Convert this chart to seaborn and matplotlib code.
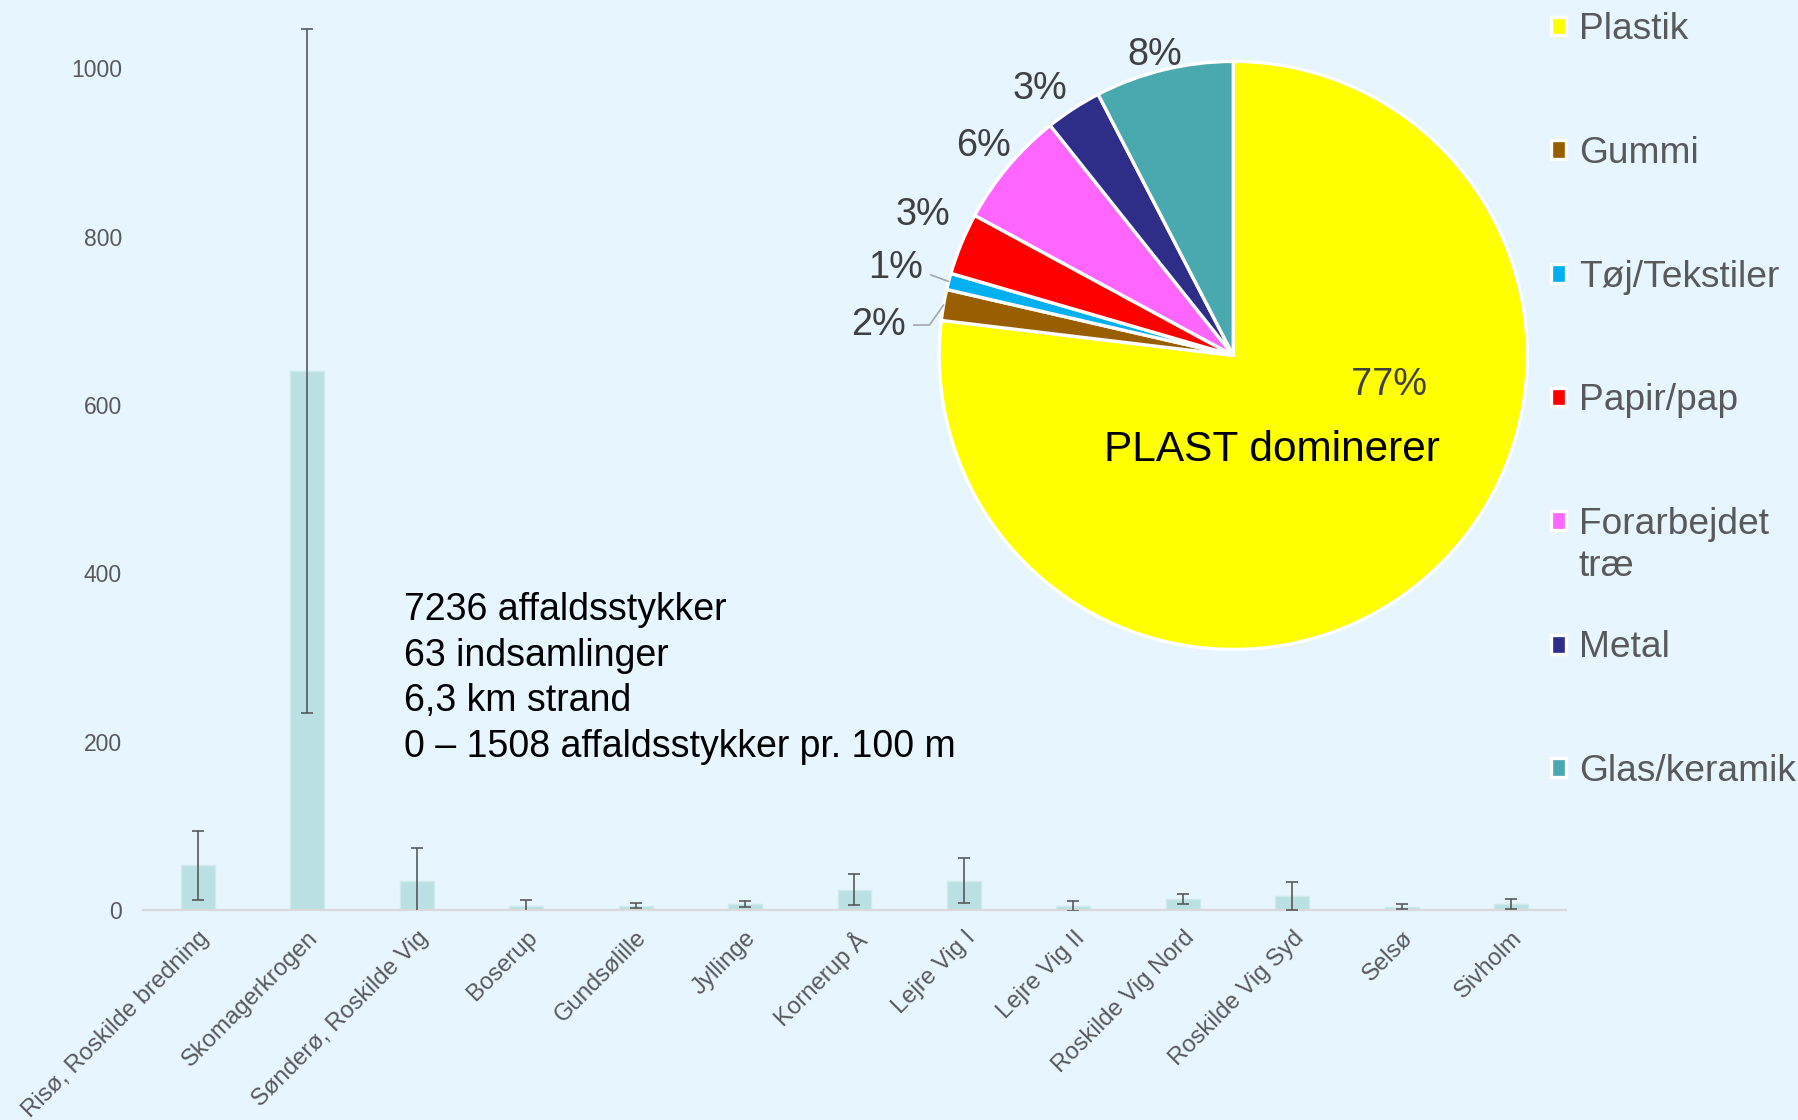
import numpy as np
import pandas as pd
import seaborn as sns
import matplotlib.pyplot as plt

# data
sites = ['Risø, Roskilde bredning', 'Skomagerkrogen', 'Sønderø, Roskilde Vig', 'Boserup',
         'Gundsølille', 'Jyllinge', 'Kornerup Å', 'Lejre Vig I', 'Lejre Vig II',
         'Roskilde Vig Nord', 'Roskilde Vig Syd', 'Selsø', 'Sivholm']
mean_counts = [53, 640, 35, 4.3, 5, 7, 24, 35, 5, 13.5, 17, 4, 7]
err_counts = [41, 406, 39, 8, 3, 4, 18.5, 26.5, 6, 6, 16.5, 2.7, 6]
yticks = [0, 200, 400, 600, 800, 1000]

materials = ['Plastik', 'Gummi', 'Tøj/Tekstiler', 'Papir/pap', 'Forarbejdet træ', 'Metal', 'Glas/keramik']
shares = [76.9, 1.7, 0.9, 3.4, 6.4, 3.1, 7.6]
mat_colors = ['#FFFF00', '#985E00', '#00B0F0', '#FF0000', '#FF66FF', '#2E2D88', '#4AA8AF']

info_lines = ['7236 affaldsstykker', '63 indsamlinger', '6,3 km strand',
              '0 – 1508 affaldsstykker pr. 100 m']
pie_title = 'PLAST dominerer'

BG = '#E7F5FE'
GREY = '#595959'

sns.set_theme(style='white')
plt.rcParams['font.family'] = ['Liberation Sans', 'DejaVu Sans']

fig = plt.figure(figsize=(17.98, 11.2), dpi=100)
fig.patch.set_facecolor(BG)

# bar chart
ax = fig.add_axes([0.0795, 0.1875, 0.7915, 0.8125])
ax.set_facecolor(BG)
df = pd.DataFrame({'site': sites, 'mean': mean_counts, 'err': err_counts})
sns.barplot(data=df, x='site', y='mean', color='#BBE0E3', saturation=1, width=0.31,
            edgecolor='#CFEAEC', linewidth=1, ax=ax)
ax.errorbar(np.arange(len(sites)), df['mean'], yerr=df['err'], fmt='none',
            ecolor=GREY, elinewidth=1.2, capsize=4.5, capthick=1.2, zorder=3)
ax.set_xlim(-0.5, len(sites) - 0.5)
ax.set_ylim(0, 1081)
ax.set_yticks(yticks)
ax.set_xlabel('')
ax.set_ylabel('')
for s in ['left', 'right', 'top']:
    ax.spines[s].set_visible(False)
ax.spines['bottom'].set_color('#D9D9D9')
ax.spines['bottom'].set_linewidth(1.6)
ax.tick_params(axis='both', length=0, labelcolor=GREY)
ax.tick_params(axis='y', pad=15, labelsize=16.5)
ax.tick_params(axis='x', pad=12, labelsize=17.2)
plt.setp(ax.get_xticklabels(), rotation=45, ha='right', rotation_mode='anchor')

fig.text(0.2245, 0.394, '\n'.join(info_lines), ha='left', va='center',
         fontsize=27, color='black', linespacing=1.34)

# pie chart
axp = fig.add_axes([0.5142, 0.4070, 0.3434, 0.5513])
wedges, _ = axp.pie(shares, colors=mat_colors, startangle=90, counterclock=False,
                    wedgeprops=dict(edgecolor='white', linewidth=2.4))
axp.set_xlim(-1.05, 1.05)
axp.set_ylim(-1.05, 1.05)
axp.set_aspect('equal')
axp.axis('off')

total = sum(shares)
pct = [f'{v / total * 100:.0f}%' for v in shares]
label_r = {1: 1.21, 2: 1.185, 3: 1.16, 4: 1.11, 5: 1.12, 6: 1.055}
label_shift = {1: 5, 3: -2, 5: 3, 6: 1}
leader_angle = {1: 55, 2: 160}
for i, w in enumerate(wedges):
    if i == 0:
        continue
    mid = np.deg2rad((w.theta1 + w.theta2) / 2)
    ang = mid + np.deg2rad(label_shift.get(i, 0))
    r = label_r[i]
    tx, ty = r * np.cos(ang), r * np.sin(ang)
    if i in leader_angle:
        axp.annotate(pct[i], xy=(np.cos(mid), np.sin(mid)), xytext=(tx, ty),
                     ha='center', va='center', fontsize=27.3, color='#404040',
                     arrowprops=dict(arrowstyle='-', color='#A6A6A6', lw=1.2,
                                     shrinkA=3, shrinkB=0,
                                     connectionstyle='angle,angleA=0,angleB=%d' % leader_angle[i]))
    else:
        axp.text(tx, ty, pct[i], ha='center', va='center', fontsize=27.3, color='#404040')

axp.text(0.53, -0.10, pct[0], ha='center', va='center', fontsize=27.3, color='#404040')
axp.text(0.13, -0.32, pie_title, ha='center', va='center', fontsize=30.5, color='black')

# legend
leg_labels = [m.split(' ')[0] for m in materials]
leg = fig.legend(wedges, leg_labels, loc='upper left', bbox_to_anchor=(0.8626, 0.989),
                 frameon=False, fontsize=26.7, labelcolor=GREY, handlelength=0.4,
                 handleheight=0.4, handletextpad=0.35, labelspacing=2.39,
                 borderpad=0, borderaxespad=0)

# second line of two-word legend entries
fig.canvas.draw()
inv = fig.transFigure.inverted()
for txt, m in zip(leg.get_texts(), materials):
    parts = m.split(' ', 1)
    if len(parts) > 1:
        bb = txt.get_window_extent()
        x0, y0 = inv.transform((bb.x0, bb.y0 - 7))
        fig.text(x0, y0, parts[1], ha='left', va='top', fontsize=26.7, color=GREY)

fig.savefig('out.png', dpi=100, facecolor=BG)
